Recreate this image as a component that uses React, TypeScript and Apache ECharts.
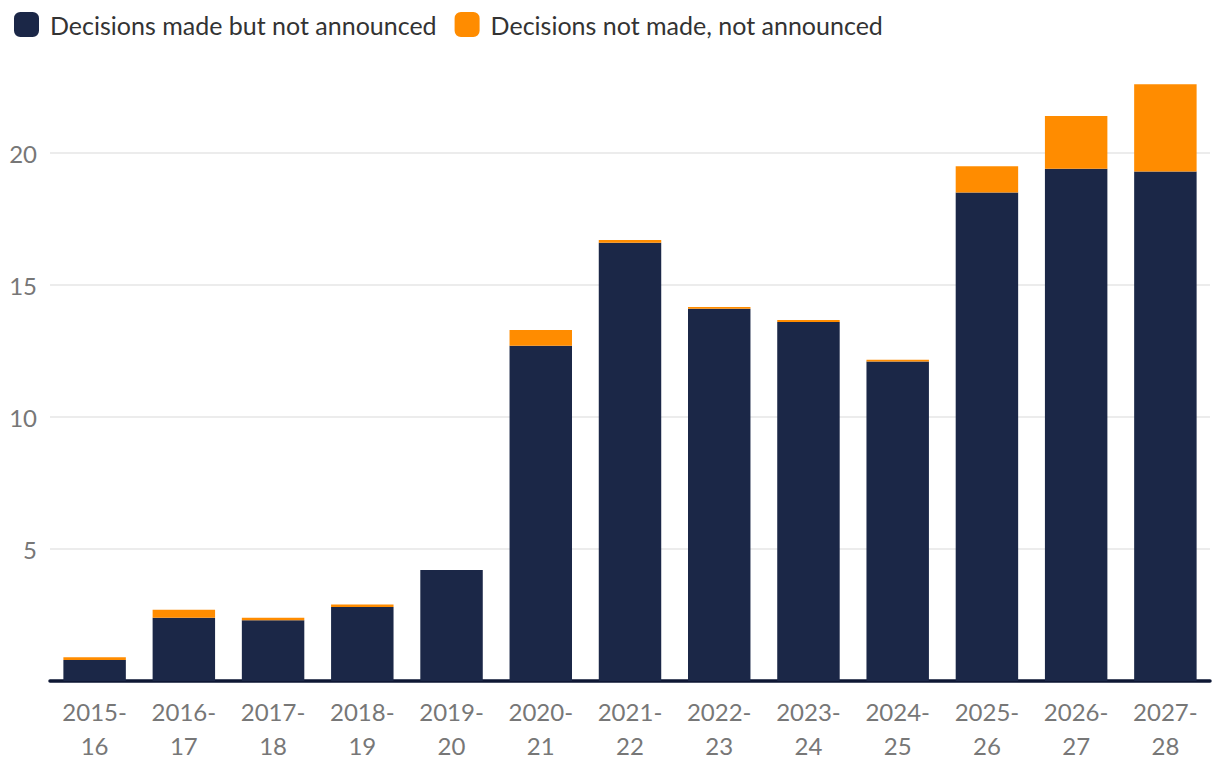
import React, { useEffect, useRef } from "react";
import * as echarts from "echarts";

const categories = [
  "2015-\n16", "2016-\n17", "2017-\n18", "2018-\n19", "2019-\n20", "2020-\n21", "2021-\n22",
  "2022-\n23", "2023-\n24", "2024-\n25", "2025-\n26", "2026-\n27", "2027-\n28",
];
const madeNotAnnounced = [0.8, 2.4, 2.3, 2.8, 4.2, 12.7, 16.6, 14.1, 13.6, 12.1, 18.5, 19.4, 19.3];
const notMadeNotAnnounced = [0.1, 0.3, 0.1, 0.1, 0, 0.6, 0.1, 0.07, 0.07, 0.07, 1.0, 2.0, 3.3];
const seriesNames = ["Decisions made but not announced", "Decisions not made, not announced"];

const FONT = "Lato";

export default function App() {
  const ref = useRef<HTMLDivElement>(null);
  useEffect(() => {
    if (!ref.current) return;
    const chart = echarts.init(ref.current, undefined, { renderer: "svg" });
    chart.setOption({
      animation: false,
      textStyle: { fontFamily: FONT },
      legend: {
        left: 9,
        top: 7,
        itemWidth: 25,
        itemHeight: 25,
        itemGap: 18,
        icon: "roundRect",
        textStyle: { fontFamily: FONT, fontSize: 25, color: "#333333", padding: [0, 0, 0, 6] },
        data: seriesNames,
      },
      grid: { left: 50, right: 10, top: 21, bottom: 101, containLabel: false },
      xAxis: {
        type: "category",
        data: categories,
        axisLine: { lineStyle: { color: "#0e1734", width: 3.5 } },
        axisTick: { show: false },
        axisLabel: {
          interval: 0,
          fontFamily: FONT,
          fontSize: 24,
          lineHeight: 34,
          color: "#777777",
          margin: 13,
        },
      },
      yAxis: {
        type: "value",
        min: 0,
        max: 25,
        interval: 5,
        axisLine: { show: false },
        axisTick: { show: false },
        axisLabel: {
          fontFamily: FONT,
          fontSize: 24,
          color: "#777777",
          margin: 13,
          showMaxLabel: false,
          formatter: (v: number) => (v === 0 ? "" : String(v)),
        },
        splitLine: { show: true, showMaxLine: false, lineStyle: { color: "#e6e6e6", width: 1.5 } },
      },
      series: [
        {
          name: seriesNames[0],
          type: "bar",
          stack: "total",
          barWidth: "70%",
          itemStyle: { color: "#1b2747" },
          data: madeNotAnnounced,
        },
        {
          name: seriesNames[1],
          type: "bar",
          stack: "total",
          barWidth: "70%",
          itemStyle: { color: "#ff8c00" },
          data: notMadeNotAnnounced,
        },
      ],
    });
    return () => chart.dispose();
  }, []);
  return (
    <div
      ref={ref}
      style={{ position: "fixed", left: 0, top: 0, width: 1220, height: 782, background: "#ffffff" }}
    />
  );
}
